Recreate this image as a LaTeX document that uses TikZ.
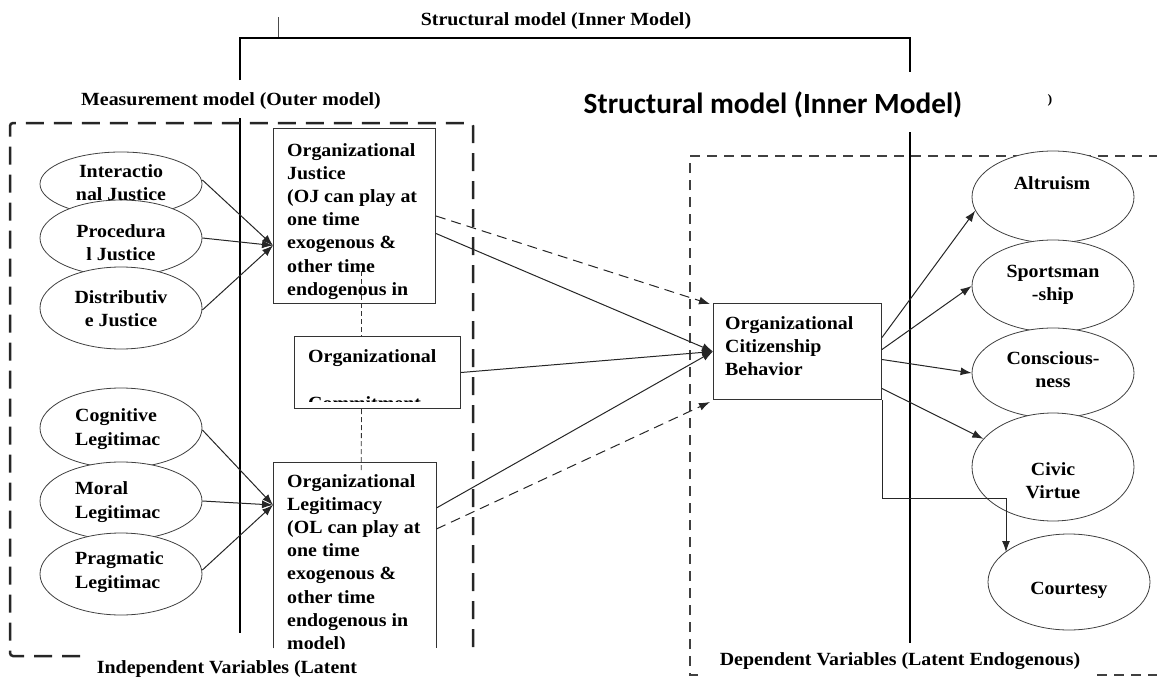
\documentclass[tikz,border=0pt]{standalone}
\usepackage{fontspec}
\setmainfont{Liberation Serif}[FakeStretch=1.07]
\newfontfamily\calibrifont{Carlito}
\usetikzlibrary{arrows.meta,shapes.geometric,calc}
\begin{document}
\begin{tikzpicture}[x=1pt,y=-1pt,
  txt/.style={font=\fontsize{18.6}{23.2}\selectfont\bfseries, inner sep=0pt, align=left},
  ctxt/.style={font=\fontsize{18.6}{23.2}\selectfont\bfseries, inner sep=0pt, align=center},
  ell/.style={draw=black!75, line width=0.8pt, ellipse, fill=white, inner sep=0pt, minimum width=162pt},
  boxn/.style={draw=black!80, line width=1pt, rectangle, inner sep=0pt, anchor=north west},
  arr/.style={draw=black!85, line width=1pt, -{Latex[length=11pt,width=8pt]}},
  darr/.style={arr, dash pattern=on 10pt off 6pt},
  vbar/.style={line width=2.5pt, draw=black},
  vdash/.style={draw=black!80, line width=0.8pt, dash pattern=on 5pt off 3pt},
]
\useasboundingbox (0,0) rectangle (1157,680);

% ---------- frames and structural lines ----------
\draw[draw=black!70, line width=1pt] (278,17) -- (278,38);
\draw[line width=2pt] (240,80) -- (240,38) -- (910,38) -- (910,72);
\draw[vbar] (240,118) -- (240,633);
\draw[vbar] (910,132) -- (910,643);

\draw[line width=2.5pt, black!85, dash pattern=on 18pt off 10pt, rounded corners=3pt]
  (80,656) -- (10,656) -- (10,123) -- (473,123) -- (473,650);
\draw[line width=1.2pt, black!75, dash pattern=on 10pt off 7pt]
  (698,675) -- (690,675) -- (690,156) -- (1157,156);
\draw[line width=1.2pt, black!75, dash pattern=on 10pt off 7pt]
  (1097,675) -- (1157,675);

% ---------- labels ----------
\node[ctxt] (lstruct) at (556,21) {Structural model (Inner Model)};
\node[ctxt] (lmeas) at (231,101) {Measurement model (Outer model)};
\node[inner sep=0pt, font=\calibrifont\fontsize{29.3}{34}\selectfont\bfseries] (lbig) at (773,105) {Structural model (Inner Model)};
\node[inner sep=0pt, font=\fontsize{13}{15}\selectfont\bfseries] (lpar) at (1050,100) {)};
\node[ctxt] (lind) at (227,669) {Independent Variables (Latent};
\node[ctxt] (ldep) at (900,661) {Dependent Variables (Latent Endogenous)};

% ---------- left ellipses ----------
\node[ell, minimum height=64pt] (ij) at (121,184) {};
\node[ell, minimum height=76pt] (pj) at (121,238) {};
\node[ell, minimum height=82pt] (dj) at (121,308) {};
\node[ell, minimum height=80pt] (cl) at (121,428) {};
\node[ell, minimum height=78pt] (ml) at (121,501) {};
\node[ell, minimum height=82pt] (pl) at (121,574) {};

\node[ctxt] (tij) at (121,183) {Interactio\\nal Justice};
\node[ctxt] (tpj) at (121,243) {Procedura\\l Justice};
\node[ctxt] (tdj) at (121,309) {Distributiv\\e Justice};
\node[txt, anchor=west] (tcl) at (75,429) {Cognitive\\Legitimac};
\node[txt, anchor=west] (tml) at (75,502) {Moral\\Legitimac};
\node[txt, anchor=west] (tpl) at (75,572) {Pragmatic\\Legitimac};

% ---------- right ellipses ----------
\node[ell, minimum height=92pt] (alt) at (1053,197) {};
\node[ell, minimum height=92pt] (spo) at (1053,286) {};
\node[ell, minimum height=90pt] (con) at (1053,373) {};
\node[ell, minimum height=108pt] (civ) at (1053,467) {};
\node[ell, minimum height=96pt] (cou) at (1069,582) {};

\node[ctxt] (talt) at (1052,183) {Altruism};
\node[ctxt] (tspo) at (1053,285) {Sportsman\\-ship};
\node[ctxt] (tcon) at (1053,370) {Conscious-\\ness};
\node[ctxt] (tciv) at (1053,481) {Civic\\Virtue};
\node[ctxt] (tcou) at (1069,590) {Courtesy};

% ---------- boxes ----------
\node[boxn, minimum width=162pt, minimum height=175pt] (oj) at (273,128) {};
\node[txt, anchor=north west] (toj) at (287,143)
  {Organizational\\Justice\\(OJ can play at\\one time\\exogenous \&\\other time\\endogenous in};

\node[boxn, minimum width=166pt, minimum height=72pt] (oc) at (294,336) {};
\begin{scope}
  \clip (294,336) rectangle (461,401);
  \node[txt, anchor=north west] (toc) at (308,349) {Organizational\\[23.8pt]Commitment};
\end{scope}

\node[minimum width=163pt, minimum height=186pt, inner sep=0pt, anchor=north west] (ol) at (273,462) {};
\draw[draw=black!80, line width=1pt] (ol.south west) -- (ol.north west) -- (ol.north east) -- (ol.south east);
\begin{scope}
  \clip (273,462) rectangle (436,648);
  \node[txt, anchor=north west] (tol) at (287,474)
    {Organizational\\Legitimacy\\(OL can play at\\one time\\exogenous \&\\other time\\endogenous in\\model)};
\end{scope}

\node[boxn, minimum width=168pt, minimum height=96pt] (ocb) at (713,303) {};
\node[txt, anchor=north west] (tocb) at (725,316) {Organizational\\Citizenship\\Behavior};

% ---------- dashed links between boxes ----------
\draw[vdash] ([xshift=7pt,yshift=33pt]oj.south) -- ([xshift=-16pt]oc.north);
\draw[vdash] ([xshift=-16pt]oc.south) -- ([xshift=6.5pt,yshift=-8pt]ol.north);

% ---------- measurement arrows ----------
\coordinate (ojin) at ([yshift=-29.5pt]oj.west);
\draw[arr] ([yshift=4pt]ij.east) -- (ojin);
\draw[arr] (pj.east) -- (ojin);
\draw[arr] ([yshift=-2pt]dj.east) -- (ojin);

\coordinate (olin) at ([yshift=-43pt]ol.north west);
\draw[arr] ([yshift=-2pt]cl.east) -- (olin);
\draw[arr] (ml.east) -- (olin);
\draw[arr] ([yshift=4pt]pl.east) -- (olin);

% ---------- structural arrows ----------
\draw[darr] (oj.east) -- ([xshift=-3pt,yshift=-1pt]ocb.north west);
\draw[arr] ([yshift=-17.5pt]oj.east) -- (ocb.west);
\draw[arr] (oc.east) -- (ocb.west);
\draw[arr] ([yshift=-46pt]ol.north east) -- (ocb.west);
\draw[darr] ([yshift=-67pt]ol.north east) -- ([xshift=-3pt,yshift=-2pt]ocb.south west);

% ---------- outcome arrows ----------
\draw[arr] ([yshift=14pt]ocb.east) -- (alt.190);
\draw[arr] ([yshift=2pt]ocb.east) -- (spo.west);
\draw[arr] ([yshift=-8pt]ocb.east) -- (con.west);
\draw[arr] ([yshift=-37pt]ocb.east) -- (civ.158);
\coordinate (coutop) at ($(cou.center)+(-63,-30)$);
\draw[arr] (ocb.south east) -- ++(0,98) -| (coutop);
\end{tikzpicture}
\end{document}
